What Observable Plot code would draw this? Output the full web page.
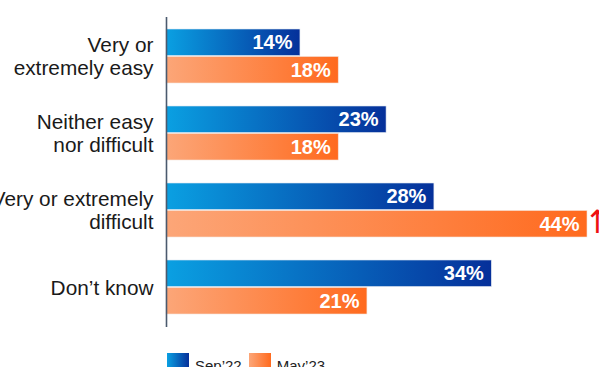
<!DOCTYPE html>
<html>
<head>
<meta charset="utf-8">
<script src="https://cdn.jsdelivr.net/npm/d3@7"></script>
<script src="https://cdn.jsdelivr.net/npm/@observablehq/plot@0.6"></script>
<style>
  html, body { margin: 0; padding: 0; background: #fff; overflow: hidden; width: 599px; height: 367px; }
  #chart { position: relative; }
  .legend { display: flex; align-items: flex-start; margin-left: 167px; margin-top: 3px; font-family: "Liberation Sans", Arial, sans-serif; font-size: 15px; color: #222; }
  .legend .item { display: flex; align-items: flex-start; margin-right: 7px; }
  .legend .sw { width: 22px; height: 22px; margin-right: 6px; }
  .legend .lbl { line-height: 22px; margin-top: 2px; }
</style>
</head>
<body>
<div id="chart"></div>
<script>
const categories = ["Very or\nextremely easy", "Neither easy\nnor difficult", "Very or extremely\ndifficult", "Don’t know"];
const sep22 = [14, 23, 28, 34];
const may23 = [18, 18, 44, 21];
const seriesNames = ["Sep’22", "May’23"];
const increaseFlags = [false, false, true, false];

const sepData = categories.map((c, i) => ({category: c, value: sep22[i]}));
const mayData = categories.map((c, i) => ({category: c, value: may23[i], up: increaseFlags[i]}));

const W = 599, H = 350;
const font = "Liberation Sans, Arial, sans-serif";

const plot = Plot.plot({
  width: W,
  height: H,
  marginLeft: 166,
  marginRight: 12,
  marginTop: 17,
  marginBottom: 23,
  style: {fontFamily: font, background: "transparent", overflow: "visible"},
  x: {domain: [0, 44], axis: null},
  y: {domain: categories, paddingInner: 0.295, paddingOuter: 0.135, axis: null},
  marks: [
    Plot.barX(sepData, {y: "category", x: "value", insetBottom: 27.5, fill: "url(#gradBlue)", stroke: "#dfe6f0", strokeWidth: 0.6}),
    Plot.barX(mayData, {y: "category", x: "value", insetTop: 27.5, fill: "url(#gradOrange)", stroke: "#f3e3da", strokeWidth: 0.6}),
    Plot.text(sepData, {y: "category", x: "value", text: d => d.value + "%", dy: -13.5, dx: -8, textAnchor: "end", fill: "white", fontWeight: "bold", fontSize: 20}),
    Plot.text(mayData, {y: "category", x: "value", text: d => d.value + "%", dy: 14, dx: -8, textAnchor: "end", fill: "white", fontWeight: "bold", fontSize: 20}),
    Plot.text(mayData.filter(d => d.up), {y: "category", x: "value", text: () => "↑", dy: 12, dx: 10, textAnchor: "middle", fill: "#ee1111", fontSize: 32, fontFamily: "DejaVu Sans"}),
    Plot.text(categories, {y: d => d, x: 0, text: d => d, dx: -13, textAnchor: "end", lineAnchor: "middle", lineHeight: 1.1, fontSize: 20.8, fill: "#1a1a1a"}),
    Plot.ruleX([0], {stroke: "#4b5a6e", strokeWidth: 1.6})
  ]
});

const svg = d3.select(plot);
const defs = svg.insert("defs", ":first-child");
const gb = defs.append("linearGradient").attr("id", "gradBlue").attr("x1", "0%").attr("x2", "100%").attr("y1", "0%").attr("y2", "0%");
gb.append("stop").attr("offset", "0%").attr("stop-color", "#0aa0e2");
gb.append("stop").attr("offset", "100%").attr("stop-color", "#05309a");
const go = defs.append("linearGradient").attr("id", "gradOrange").attr("x1", "0%").attr("x2", "100%").attr("y1", "0%").attr("y2", "0%");
go.append("stop").attr("offset", "0%").attr("stop-color", "#fca678");
go.append("stop").attr("offset", "100%").attr("stop-color", "#ff6a1e");

document.getElementById("chart").appendChild(plot);

const legend = d3.select("#chart").append("div").attr("class", "legend");
const swatches = ["linear-gradient(to right, #0aa0e2, #05309a)", "linear-gradient(to right, #fca678, #ff6a1e)"];
seriesNames.forEach((name, i) => {
  const item = legend.append("div").attr("class", "item");
  item.append("div").attr("class", "sw").style("background", swatches[i]);
  item.append("div").attr("class", "lbl").text(name);
});
</script>
</body>
</html>
